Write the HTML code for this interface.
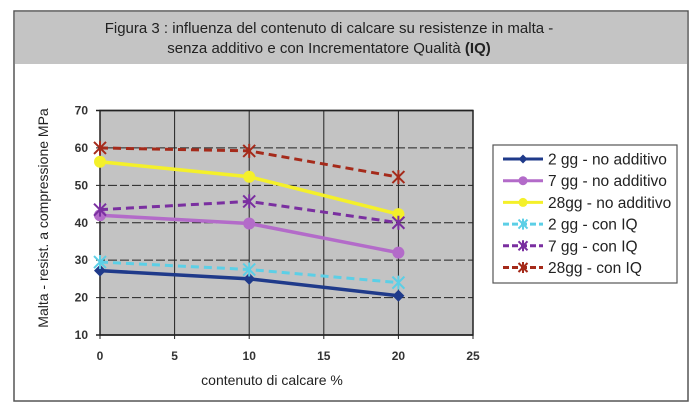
<!DOCTYPE html>
<html><head><meta charset="utf-8"><style>
body{margin:0;background:#fff;font-family:"Liberation Sans",sans-serif}
</style></head><body>
<svg width="700" height="411" xmlns="http://www.w3.org/2000/svg">
<rect x="0" y="0" width="700" height="411" fill="#fff"/>
<rect x="14" y="11" width="674" height="390" fill="#fff" stroke="#555" stroke-width="1.5"/>
<rect x="15" y="12" width="672" height="52" fill="#c4c4c4"/>
<text x="329" y="33" text-anchor="middle" font-size="15" fill="#222">Figura 3 : influenza del contenuto di calcare su resistenze in malta -</text>
<text x="329" y="53" text-anchor="middle" font-size="15" fill="#222">senza additivo e con Incrementatore Qualità <tspan font-weight="bold">(IQ)</tspan></text>
<g id="plot"></g>
<text transform="translate(48,218) rotate(-90)" text-anchor="middle" font-size="14" fill="#222">Malta - resist. a compressione MPa</text>
<text x="272" y="385" text-anchor="middle" font-size="14" fill="#222">contenuto di calcare %</text>
<rect x="493" y="145" width="184" height="138" fill="#fff" stroke="#555" stroke-width="1.2"/>
<g id="legend"></g>
</svg>
<script>
const xVals=[0,10,20];
const xTicks=[0,5,10,15,20,25];
const yTicks=[10,20,30,40,50,60,70];
const names=["2 gg - no additivo","7 gg - no additivo","28gg - no additivo","2 gg - con IQ","7 gg - con IQ","28gg - con IQ"];
const s2no=[27.2,25,20.5];
const s7no=[42,39.8,32];
const s28no=[56.3,52.3,42.3];
const s2iq=[29.5,27.5,24];
const s7iq=[43.5,45.7,40];
const s28iq=[60,59.2,52.2];
const series=[s2no,s7no,s28no,s2iq,s7iq,s28iq];
const colors=["#1f3a8a","#b36bc9","#f4f02a","#5ccfe6","#7a2fa0","#a52a1a"];
const dashed=[false,false,false,true,true,true];
const NS="http://www.w3.org/2000/svg";
const X0=100,X1=473,Y0=335,Y1=110.5;
const sx=v=>X0+(v-0)/(25-0)*(X1-X0);
const sy=v=>Y0-(v-10)/(70-10)*(Y0-Y1);
const plot=document.getElementById('plot');
function mk(t,a,p){const e=document.createElementNS(NS,t);for(const k in a)e.setAttribute(k,a[k]);(p||plot).appendChild(e);return e;}
const bg=mk('rect',{x:X0,y:Y1,width:X1-X0,height:Y0-Y1,fill:'#c3c3c3'});


xTicks.forEach(t=>{
  const l=mk('line',{x1:sx(t),x2:sx(t),y1:Y1,y2:Y0+4,stroke:'#222','stroke-width':1});
  
  
  const tx=mk('text',{x:sx(t),y:Y0+25,'text-anchor':'middle','font-size':12,'font-weight':'bold',fill:'#333'});
  tx.textContent=t;
  
  
});
yTicks.forEach(t=>{
  const edge=(t===10||t===70);
  const l=mk('line',{x1:X0-4,x2:X1,y1:sy(t),y2:sy(t),stroke:'#222','stroke-width':edge?1.5:1,'stroke-dasharray':edge?'':'9,3'});
  
  
  const tx=mk('text',{x:X0-12,y:sy(t)+4,'text-anchor':'end','font-size':12,'font-weight':'bold',fill:'#333'});
  tx.textContent=t;
  
  
});
mk('rect',{x:X0,y:Y1,width:X1-X0,height:Y0-Y1,fill:'none',stroke:'#222','stroke-width':1.5});
function marker(g,x,y,i,s){
  if(dashed[i]){
    mk('path',{d:`M${x-s} ${y-s}L${x+s} ${y+s}M${x-s} ${y+s}L${x+s} ${y-s}M${x} ${y-s-1}L${x} ${y+s+1}`,stroke:colors[i],'stroke-width':2,fill:'none'},g);
  } else if(i===0){
    mk('path',{d:`M${x} ${y-s}L${x+s} ${y}L${x} ${y+s}L${x-s} ${y}Z`,fill:colors[i]},g);
  } else {
    mk('circle',{cx:x,cy:y,r:s,fill:colors[i]},g);
  }
}
series.forEach((d,i)=>{
  const g=mk('g',{});
  
  
  const pts=d.map((v,j)=>sx(xVals[j])+','+sy(v)).join(' ');
  mk('polyline',{points:pts,fill:'none',stroke:colors[i],'stroke-width':dashed[i]?3:3.5,'stroke-dasharray':dashed[i]?'8,5':''},g);
  d.forEach((v,j)=>marker(g,sx(xVals[j]),sy(v),i,6));
});
const leg=document.getElementById('legend');
names.forEach((n,i)=>{
  const y=159+i*21.7;
  const g=mk('g',{},leg);
  
  
  mk('line',{x1:503,x2:543,y1:y,y2:y,stroke:colors[i],'stroke-width':3,'stroke-dasharray':dashed[i]?'6,3':''},g);
  marker(g,523,y,i,4.5);
  const t=mk('text',{x:548,y:y+5.5,'font-size':15.5,fill:'#222'},g);
  t.textContent=n;
});
</script>
</body></html>
